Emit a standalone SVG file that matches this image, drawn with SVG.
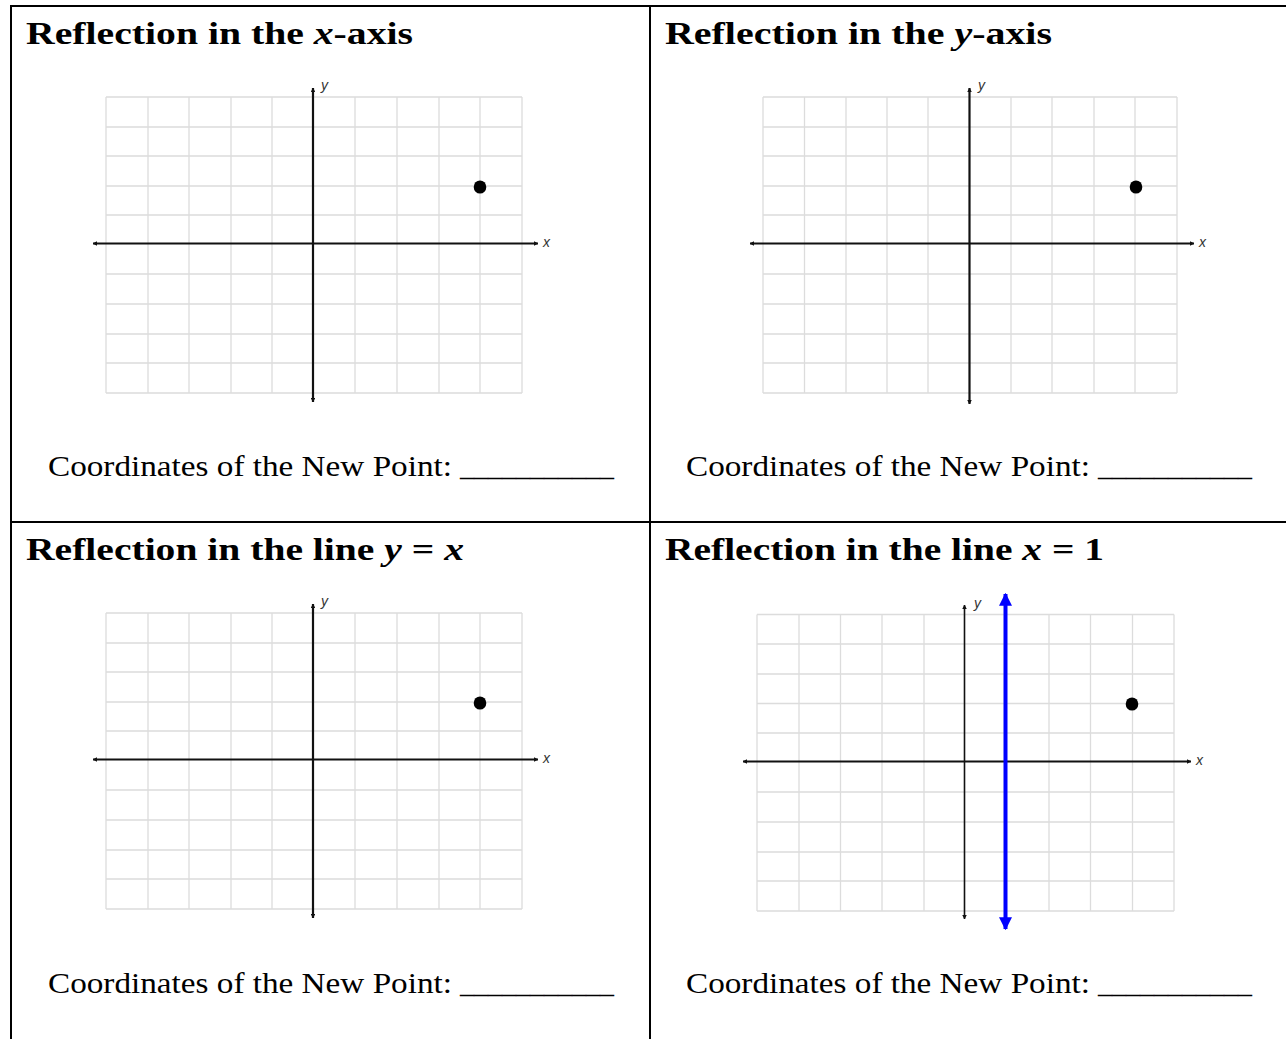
<svg xmlns="http://www.w3.org/2000/svg" width="1286" height="1039" viewBox="0 0 1286 1039">
<style>
.border{stroke:#000;stroke-width:2;fill:none}
.title{font-family:"Liberation Serif",serif;font-weight:bold;font-size:32px;fill:#000}
.coord{font-family:"Liberation Serif",serif;font-size:29px;fill:#000}
.grid{stroke:#dcdcdc;stroke-width:1.3;fill:none}
.axis{stroke:#111;stroke-width:2.2;fill:none;marker-start:url(#ah);marker-end:url(#ah)}
.axis-thin{stroke:#111;stroke-width:1.6;fill:none;marker-start:url(#ah);marker-end:url(#ah)}
.lbl{font-family:"Liberation Sans",sans-serif;font-style:italic;font-size:14px;fill:#333}
.pt{fill:#000}
.blue{stroke:#0000ff;stroke-width:4;fill:none;marker-start:url(#bh);marker-end:url(#bh)}
</style>
<defs>
<marker id="ah" viewBox="0 0 10 10" refX="9" refY="5" markerWidth="4.5" markerHeight="4.5" markerUnits="userSpaceOnUse" orient="auto-start-reverse">
<path d="M0,0 L10,5 L0,10 Z" fill="#111"/>
</marker>
<marker id="bh" viewBox="0 0 10 10" refX="9" refY="5" markerWidth="13" markerHeight="14" markerUnits="userSpaceOnUse" orient="auto-start-reverse">
<path d="M0,0 L10,5 L0,10 Z" fill="#0000ff"/>
</marker>
</defs>
<rect width="1286" height="1039" fill="#fff"/>
<g id="table">
<line class="border" x1="11" y1="6" x2="1286" y2="6"/>
<line class="border" x1="11" y1="5" x2="11" y2="1039"/>
<line class="border" x1="650" y1="5" x2="650" y2="1039"/>
<line class="border" x1="11" y1="522" x2="1286" y2="522"/>
</g>
<g id="panel-x-axis">
<text class="title" x="26" y="44" textLength="387" lengthAdjust="spacingAndGlyphs">Reflection in the <tspan font-style="italic">x</tspan>-axis</text>
<path class="grid" d="M106,97H522M106,127H522M106,156H522M106,186H522M106,215H522M106,274H522M106,304H522M106,334H522M106,363H522M106,393H522M106,97V393M148,97V393M189,97V393M231,97V393M272,97V393M355,97V393M397,97V393M439,97V393M480,97V393M522,97V393"/>
<line class="axis" x1="93" y1="243.5" x2="538" y2="243.5"/>
<line class="axis" x1="313" y1="402" x2="313" y2="88"/>
<text class="lbl" x="321" y="90">y</text>
<text class="lbl" x="543" y="247">x</text>
<ellipse class="pt" cx="480" cy="187" rx="6.3" ry="6.6"/>
<text class="coord" x="48" y="476" textLength="404" lengthAdjust="spacingAndGlyphs">Coordinates of the New Point:</text>
<text class="coord" x="460" y="476" textLength="154" lengthAdjust="spacingAndGlyphs">___________</text>
</g>
<g id="panel-y-axis">
<text class="title" x="665" y="44" textLength="387" lengthAdjust="spacingAndGlyphs">Reflection in the <tspan font-style="italic">y</tspan>-axis</text>
<path class="grid" d="M763,97H1177M763,127H1177M763,156H1177M763,186H1177M763,215H1177M763,274H1177M763,304H1177M763,334H1177M763,363H1177M763,393H1177M763,97V393M804.5,97V393M846,97V393M887,97V393M928,97V393M1011,97V393M1052,97V393M1094,97V393M1135,97V393M1177,97V393"/>
<line class="axis" x1="750" y1="243.5" x2="1194" y2="243.5"/>
<line class="axis" x1="969.5" y1="404" x2="969.5" y2="88"/>
<text class="lbl" x="978" y="90">y</text>
<text class="lbl" x="1199" y="247">x</text>
<ellipse class="pt" cx="1136" cy="187" rx="6.3" ry="6.6"/>
<text class="coord" x="686" y="476" textLength="404" lengthAdjust="spacingAndGlyphs">Coordinates of the New Point:</text>
<text class="coord" x="1098" y="476" textLength="154" lengthAdjust="spacingAndGlyphs">___________</text>
</g>
<g id="panel-y-equals-x">
<text class="title" x="26" y="560" textLength="438" lengthAdjust="spacingAndGlyphs">Reflection in the line <tspan font-style="italic">y</tspan> = <tspan font-style="italic">x</tspan></text>
<path class="grid" d="M106,613H522M106,643H522M106,672H522M106,702H522M106,731H522M106,790H522M106,820H522M106,850H522M106,879H522M106,909H522M106,613V909M148,613V909M189,613V909M231,613V909M272,613V909M355,613V909M397,613V909M439,613V909M480,613V909M522,613V909"/>
<line class="axis" x1="93" y1="759.5" x2="538" y2="759.5"/>
<line class="axis" x1="313" y1="918" x2="313" y2="604"/>
<text class="lbl" x="321" y="606">y</text>
<text class="lbl" x="543" y="763">x</text>
<ellipse class="pt" cx="480" cy="703" rx="6.3" ry="6.6"/>
<text class="coord" x="48" y="993" textLength="404" lengthAdjust="spacingAndGlyphs">Coordinates of the New Point:</text>
<text class="coord" x="460" y="993" textLength="154" lengthAdjust="spacingAndGlyphs">___________</text>
</g>
<g id="panel-x-equals-1">
<text class="title" x="665" y="560" textLength="439" lengthAdjust="spacingAndGlyphs">Reflection in the line <tspan font-style="italic">x</tspan> = 1</text>
<path class="grid" d="M757,614.5H1174M757,644H1174M757,674H1174M757,703.5H1174M757,733H1174M757,792H1174M757,822H1174M757,852H1174M757,881H1174M757,911H1174M757,614.5V911M799,614.5V911M840.5,614.5V911M882,614.5V911M924,614.5V911M1049,614.5V911M1090.5,614.5V911M1132.5,614.5V911M1174,614.5V911"/>
<line class="axis" x1="743" y1="761.5" x2="1191" y2="761.5"/>
<line class="axis-thin" x1="964.5" y1="919" x2="964.5" y2="605"/>
<text class="lbl" x="974" y="608">y</text>
<text class="lbl" x="1196" y="765">x</text>
<ellipse class="pt" cx="1132" cy="704" rx="6.3" ry="6.6"/>
<line class="blue" x1="1005.5" y1="929" x2="1005.5" y2="594"/>
<text class="coord" x="686" y="993" textLength="404" lengthAdjust="spacingAndGlyphs">Coordinates of the New Point:</text>
<text class="coord" x="1098" y="993" textLength="154" lengthAdjust="spacingAndGlyphs">___________</text>
</g>
</svg>
